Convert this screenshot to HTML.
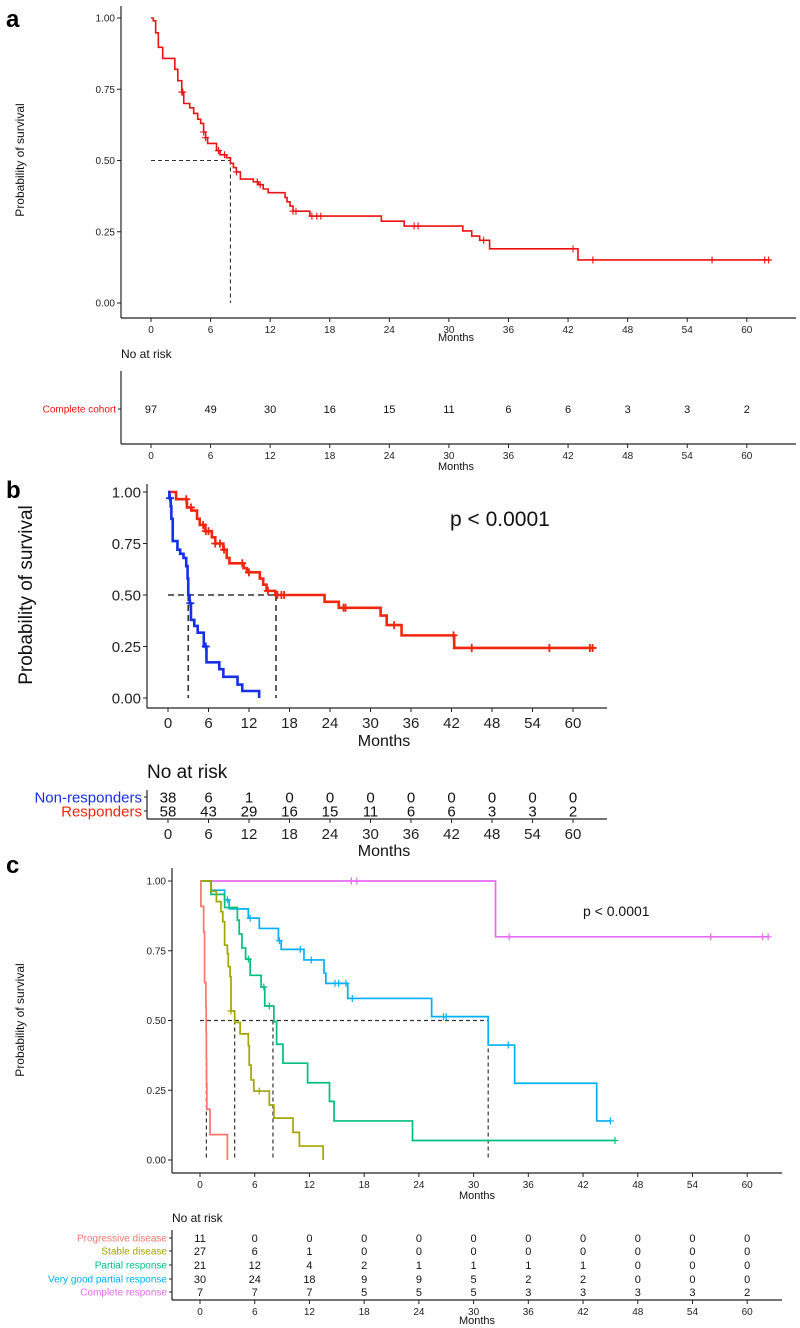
<!DOCTYPE html>
<html><head><meta charset="utf-8"><style>
body{margin:0;background:#fff}
svg{display:block;font-family:"Liberation Sans",Arial,sans-serif}
</style></head><body>
<svg id="fig" width="800" height="1328" viewBox="0 0 800 1328" xmlns="http://www.w3.org/2000/svg">
<text x="6" y="27" font-size="24" font-weight="bold">a</text>
<text x="6" y="498" font-size="24" font-weight="bold">b</text>
<text x="6" y="873" font-size="24" font-weight="bold">c</text>
<g id="layer"></g>
</svg>
<script>
// ---------- DATA ----------
const monthTicks = [0,6,12,18,24,30,36,42,48,54,60];
const survTicks = [0,0.25,0.5,0.75,1];
const survTickLabels = ["0.00","0.25","0.50","0.75","1.00"];

// Panel a: complete cohort
const aTimes = [0.23,0.47,0.74,1.18,2.4,2.7,3.1,3.3,3.9,4.3,4.7,5.0,5.3,5.5,5.7,6.6,6.95,7.6,8.0,8.3,8.6,9.0,10.3,10.8,11.3,11.8,13.5,13.7,14.0,14.3,16.0,23.2,25.5,31.4,32.3,33.1,34.1,43.0];
const aSurv = [0.99,0.948,0.897,0.858,0.82,0.78,0.74,0.70,0.685,0.665,0.645,0.63,0.60,0.58,0.56,0.535,0.52,0.51,0.49,0.475,0.46,0.435,0.425,0.415,0.40,0.387,0.37,0.355,0.34,0.322,0.305,0.287,0.27,0.253,0.235,0.22,0.19,0.151];
const aEnd = 62.3;
const aCensor = [3.1,3.2,5.3,5.5,6.8,7.4,8.6,10.7,11.0,14.3,14.6,16.2,16.7,17.1,26.5,26.9,33.5,42.5,44.5,56.5,61.8,62.2];
const aRisk = [97,49,30,16,15,11,6,6,3,3,2];
const aMedian = 8.0;

// Panel b: responders / non-responders
const bRespTimes = [1.2,2.8,3.5,4.3,4.7,5.5,6.5,7.0,8.2,8.7,9.1,11.2,11.7,13.6,14.1,14.6,15.9,23.2,25.3,31.5,32.4,34.6,42.4];
const bRespSurv = [0.965,0.925,0.91,0.87,0.84,0.81,0.78,0.75,0.72,0.68,0.654,0.63,0.61,0.58,0.55,0.52,0.50,0.467,0.438,0.40,0.354,0.304,0.243];
const bRespEnd = 63;
const bRespCensor = [2.7,3.4,5.2,5.6,6.0,7.0,7.7,8.3,11.0,12.0,14.8,16.2,16.8,17.2,26.0,26.3,33.5,42.3,45,56.5,62.5,62.9];
const bNonTimes = [0.2,0.4,0.5,0.7,1.4,1.8,2.3,2.7,2.9,3.0,3.2,3.4,3.9,4.4,5.3,5.7,7.6,8.2,10.3,11.0,13.5];
const bNonSurv = [0.97,0.93,0.87,0.762,0.72,0.70,0.68,0.64,0.58,0.50,0.46,0.379,0.35,0.317,0.25,0.173,0.14,0.103,0.065,0.034,0.0];
const bNonEnd = 13.5;
const bNonCensor = [0.3,3.3,5.6];
const bRiskNon = [38,6,1,0,0,0,0,0,0,0,0];
const bRiskResp = [58,43,29,16,15,11,6,6,3,3,2];
const bMedians = [3.0,16.0];

// Panel c: by response category
const cPdTimes = [0.1,0.4,0.5,0.65,0.68,0.7,0.72,0.75,1.1,3.0];
const cPdSurv = [0.909,0.818,0.636,0.545,0.455,0.364,0.273,0.182,0.091,0];
const cPdEnd = 3.0; const cPdCensor = [];
const cSdTimes = [1.2,1.8,2.3,2.5,2.7,3.0,3.1,3.3,3.4,3.8,4.4,5.3,5.4,5.6,5.9,7.6,8.1,10.2,10.9,13.5];
const cSdSurv = [0.963,0.926,0.89,0.854,0.77,0.74,0.693,0.657,0.534,0.493,0.452,0.41,0.34,0.287,0.247,0.197,0.15,0.099,0.05,0];
const cSdEnd = 13.5; const cSdCensor = [3.4,6.5];
const cPrTimes = [1.2,2.7,4.1,4.3,4.6,5.0,5.5,6.7,7.1,8.1,8.4,9.1,11.8,14.2,14.7,23.3];
const cPrSurv = [0.952,0.905,0.86,0.81,0.76,0.72,0.662,0.62,0.552,0.496,0.415,0.347,0.277,0.21,0.14,0.07];
const cPrEnd = 45.5; const cPrCensor = [5.3,7.0,7.6,45.5];
const cVgTimes = [1.2,2.7,3.2,5.3,6.5,8.6,8.9,11.4,13.6,13.8,16.2,25.4,31.6,34.5,43.5];
const cVgSurv = [0.967,0.933,0.90,0.867,0.83,0.786,0.755,0.717,0.67,0.633,0.579,0.514,0.412,0.275,0.14];
const cVgEnd = 45; const cVgCensor = [3.0,5.5,8.7,11.0,12.2,14.8,15.2,16.0,16.7,26.7,27.0,33.8,45];
const cCrTimes = [32.4];
const cCrSurv = [0.80];
const cCrEnd = 62.3; const cCrCensor = [16.6,17.2,33.9,56,61.7,62.3];
const cGroups = ["Progressive disease","Stable disease","Partial response","Very good partial response","Complete response"];
const cColors = ["#F8766D","#A3A500","#00BF7D","#00B0F6","#E76BF3"];
const cRisk = [
 [11,0,0,0,0,0,0,0,0,0,0],
 [27,6,1,0,0,0,0,0,0,0,0],
 [21,12,4,2,1,1,1,1,0,0,0],
 [30,24,18,9,9,5,2,2,0,0,0],
 [7,7,7,5,5,5,3,3,3,3,2]];
const cMedians = [0.7,3.8,8.0,31.6];

// ---------- DRAWING ----------
const NS = "http://www.w3.org/2000/svg";
const layer = document.getElementById('layer');
function el(tag, attrs, parent, txt){
  const e = document.createElementNS(NS, tag);
  for (const k in attrs) e.setAttribute(k, attrs[k]);
  if (txt !== undefined) e.textContent = txt;
  (parent||layer).appendChild(e);
  return e;
}
function stepVal(times, surv, t){ let s=1; for(let i=0;i<times.length;i++){ if(times[i]<=t) s=surv[i]; } return s; }

function axes(P){
  // y axis + x axis
  const yl = el('line',{x1:P.ax,y1:P.yTop,x2:P.ax,y2:P.axY,stroke:'#222','stroke-width':1.2});
   
  const xl = el('line',{x1:P.ax,y1:P.axY,x2:P.xRight,y2:P.axY,stroke:'#222','stroke-width':1.2});
   
  survTicks.forEach((v,i)=>{
    const y = P.sy(v);
    el('line',{x1:P.ax-4,y1:y,x2:P.ax,y2:y,stroke:'#222','stroke-width':1});
    const t = el('text',{x:P.ax-6,y:y+P.tf*0.35,'font-size':P.tf,'text-anchor':'end',fill:'#222'},null,survTickLabels[i]);
     
  });
  monthTicks.forEach(m=>{
    const x = P.sx(m);
    el('line',{x1:x,y1:P.axY,x2:x,y2:P.axY+4,stroke:'#222','stroke-width':1});
    const t = el('text',{x:x,y:P.axY+5+P.tf,'font-size':P.tf,'text-anchor':'middle',fill:'#222'},null,String(m));
     
  });
  const xt = el('text',{x:P.monthsX,y:P.monthsY,'font-size':P.tf+1,'text-anchor':'middle',fill:'#111'},null,'Months');
   
  const yt = el('text',{x:0,y:0,'font-size':P.yf,'text-anchor':'middle',fill:'#111',transform:`translate(${P.ylx},${P.yly}) rotate(-90)`},null,'Probability of survival');
   
}
function km(P, times, surv, end, censors, color, w, name){
  let d = `M${P.sx(0)},${P.sy(1)}`;
  for(let i=0;i<times.length;i++){ d += ` H${P.sx(times[i])} V${P.sy(surv[i])}`; }
  if (end > (times.length?times[times.length-1]:0)) d += ` H${P.sx(end)}`;
  const p = el('path',{d:d,fill:'none',stroke:color,'stroke-width':w});
   
  censors.forEach(t=>{
    const x=P.sx(t), y=P.sy(stepVal(times,surv,t));
    const c = el('path',{d:`M${x},${y-P.ck} V${y+P.ck} M${x-P.ck},${y} H${x+P.ck}`,stroke:color,'stroke-width':Math.max(1,w*0.7),fill:'none'});
     
  });
}
function medianLines(P, meds){
  const hm = Math.max(...meds);
  const h = el('line',{x1:P.sx(0),y1:P.sy(0.5),x2:P.sx(hm),y2:P.sy(0.5),stroke:'#333','stroke-width':P.dw,'stroke-dasharray':P.dash});
   
  meds.forEach(m=>{
    const v = el('line',{x1:P.sx(m),y1:P.sy(0.5),x2:P.sx(m),y2:P.sy(0),stroke:'#333','stroke-width':P.dw,'stroke-dasharray':P.dash});
     
  });
}
function riskTable(P, R){
  const t = el('text',{x:R.titleX,y:R.titleY,'font-size':R.titleF,fill:'#111'},null,'No at risk');
   
  const l1 = el('line',{x1:P.ax,y1:R.top,x2:P.ax,y2:R.axY,stroke:'#222','stroke-width':1.2});
   
  const l2 = el('line',{x1:P.ax,y1:R.axY,x2:P.xRight,y2:R.axY,stroke:'#222','stroke-width':1.2});
   
  R.rows.forEach((row,ri)=>{
    const y = R.rowY[ri];
    el('line',{x1:P.ax-3,y1:y,x2:P.ax,y2:y,stroke:'#222','stroke-width':1});
    const lab = el('text',{x:P.ax-5,y:y+R.lf*0.35,'font-size':R.lf,'text-anchor':'end',fill:R.colors[ri]},null,R.labels[ri]);
     
    row.forEach((n,i)=>{
      const c = el('text',{x:P.sx(monthTicks[i]),y:y+R.nf*0.35,'font-size':R.nf,'text-anchor':'middle',fill:'#111'},null,String(n));
       
    });
  });
  monthTicks.forEach(m=>{
    const x = P.sx(m);
    el('line',{x1:x,y1:R.axY,x2:x,y2:R.axY+4,stroke:'#222','stroke-width':1});
    const t2 = el('text',{x:x,y:R.axY+5+R.tf,'font-size':R.tf,'text-anchor':'middle',fill:'#222'},null,String(m));
     
  });
  const mt = el('text',{x:P.monthsX,y:R.monthsY,'font-size':R.tf+1,'text-anchor':'middle',fill:'#111'},null,'Months');
   
}

// Panel a
const PA = {id:'panel-a', sx:t=>151+t*9.93, sy:s=>303-s*285, ax:121, yTop:6, axY:318, xRight:796, tf:10,
  monthsX:456, monthsY:341, yf:12, ylx:24, yly:160, ck:3.5, dw:1.1, dash:'4,3'};
axes(PA);
medianLines(PA,[aMedian]);
km(PA,aTimes,aSurv,aEnd,aCensor,'#EE1111',1.6,'complete-cohort');
riskTable(PA,{titleX:121,titleY:358,titleF:12,top:371,axY:444,rows:[aRisk],rowY:[409],labels:['Complete cohort'],colors:['#EE1111'],lf:10,nf:11,tf:10,monthsY:470});

// Panel b
const PB = {id:'panel-b', sx:t=>168+t*6.75, sy:s=>698-s*206, ax:147, yTop:484, axY:708, xRight:607, tf:15,
  monthsX:384, monthsY:746, yf:19, ylx:32, yly:595, ck:4, dw:1.6, dash:'6,4'};
axes(PB);
medianLines(PB,bMedians);
km(PB,bRespTimes,bRespSurv,bRespEnd,bRespCensor,'#F2260F',2.6,'responders');
km(PB,bNonTimes,bNonSurv,bNonEnd,bNonCensor,'#1530E6',2.6,'non-responders');
const pb = el('text',{x:450,y:526,'font-size':21,fill:'#111'},null,'p < 0.0001');
 
riskTable(PB,{titleX:147,titleY:778,titleF:19,top:790,axY:819,rows:[bRiskNon,bRiskResp],rowY:[797,811],labels:['Non-responders','Responders'],colors:['#1530E6','#F2260F'],lf:15,nf:15,tf:15,monthsY:856});

// Panel c
const PC = {id:'panel-c', sx:t=>200+t*9.12, sy:s=>1160-s*279, ax:172, yTop:868, axY:1173, xRight:782, tf:10,
  monthsX:477, monthsY:1199, yf:12, ylx:24, yly:1020, ck:3.5, dw:1.2, dash:'4,3'};
axes(PC);
medianLines(PC,cMedians);
km(PC,cCrTimes,cCrSurv,cCrEnd,cCrCensor,cColors[4],1.7,'complete-response');
km(PC,cVgTimes,cVgSurv,cVgEnd,cVgCensor,cColors[3],1.7,'very-good-partial-response');
km(PC,cPrTimes,cPrSurv,cPrEnd,cPrCensor,cColors[2],1.7,'partial-response');
km(PC,cSdTimes,cSdSurv,cSdEnd,cSdCensor,cColors[1],1.7,'stable-disease');
km(PC,cPdTimes,cPdSurv,cPdEnd,cPdCensor,cColors[0],1.7,'progressive-disease');
const pc = el('text',{x:583,y:916,'font-size':14,fill:'#111'},null,'p < 0.0001');
 
riskTable(PC,{titleX:172,titleY:1222,titleF:12,top:1230,axY:1300,rows:cRisk,rowY:[1238,1251,1265,1279,1292],labels:cGroups,colors:cColors,lf:10,nf:11,tf:10,monthsY:1324});
</script>
</body></html>
